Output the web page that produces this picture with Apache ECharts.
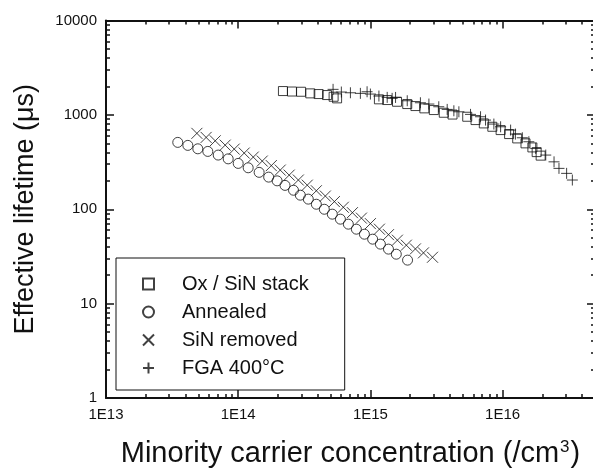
<!DOCTYPE html>
<html>
<head>
<meta charset="utf-8">
<script src="https://cdn.jsdelivr.net/npm/echarts@6/dist/echarts.min.js"></script>
<style>
html,body{margin:0;padding:0;background:#fff;}
#chart{width:593px;height:472px;}
</style>
</head>
<body>
<div id="chart"></div>
<script>
// ---- Data ----
var seriesNames = ['Ox / SiN stack', 'Annealed', 'SiN removed', 'FGA 400°C'];

var stackX = [2.18e14, 2.55e14, 2.99e14, 3.51e14, 4.06e14, 4.70e14, 5.27e14, 5.60e14, 1.16e15, 1.34e15, 1.59e15, 1.90e15, 2.19e15, 2.56e15, 3.02e15, 3.59e15, 4.18e15, 5.40e15, 6.24e15, 7.21e15, 8.36e15, 9.66e15, 1.12e16, 1.29e16, 1.49e16, 1.68e16, 1.81e16, 1.94e16];
var stackY = [1788, 1768, 1758, 1690, 1662, 1622, 1556, 1496, 1461, 1436, 1377, 1302, 1240, 1172, 1125, 1053, 1008, 955, 881, 812, 748, 690, 626, 563, 499, 452, 403, 370];

var annealedX = [3.49e13, 4.16e13, 4.95e13, 5.89e13, 7.06e13, 8.40e13, 1.00e14, 1.19e14, 1.44e14, 1.70e14, 1.97e14, 2.26e14, 2.62e14, 2.95e14, 3.39e14, 3.90e14, 4.48e14, 5.15e14, 5.93e14, 6.81e14, 7.83e14, 9.01e14, 1.04e15, 1.19e15, 1.37e15, 1.57e15, 1.91e15];
var annealedY = [511, 475, 437, 410, 375, 342, 306, 275, 246, 219, 200, 179, 159, 141, 128, 113, 100, 88.7, 78.5, 69.5, 61.5, 54.4, 48.2, 42.7, 37.8, 33.4, 28.9];

var removedX = [4.87e13, 5.72e13, 6.70e13, 7.97e13, 9.33e13, 1.11e14, 1.30e14, 1.52e14, 1.78e14, 2.08e14, 2.43e14, 2.85e14, 3.33e14, 3.90e14, 4.56e14, 5.34e14, 6.24e14, 7.31e14, 8.55e14, 1.00e15, 1.17e15, 1.37e15, 1.60e15, 1.87e15, 2.19e15, 2.52e15, 2.95e15];
var removedY = [637, 577, 531, 478, 434, 394, 357, 324, 290, 260, 230, 204, 180, 157, 138, 120.5, 105, 92, 80.5, 70.4, 61.5, 53.8, 47.0, 41.6, 38.0, 34.5, 31.0];

var fgaX = [5.22e14, 6.03e14, 7.06e14, 8.40e14, 9.44e14, 1.00e15, 1.16e15, 1.34e15, 1.46e15, 1.55e15, 1.90e15, 2.39e15, 2.77e15, 3.29e15, 3.81e15, 4.28e15, 4.67e15, 5.72e15, 6.81e15, 7.43e15, 8.59e15, 9.66e15, 1.15e16, 1.25e16, 1.41e16, 1.58e16, 1.78e16, 2.12e16, 2.45e16, 2.67e16, 3.05e16, 3.37e16];
var fgaY = [1864, 1746, 1715, 1690, 1758, 1662, 1583, 1533, 1496, 1530, 1411, 1344, 1302, 1219, 1143, 1105, 1078, 1012, 955, 881, 799, 748, 690, 626, 572, 519, 441, 375, 318, 271, 240, 204];

var xMajorTicks = [1e13, 1e14, 1e15, 1e16];
var xMinorTicks = [2e13,3e13,4e13,5e13,6e13,7e13,8e13,9e13, 2e14,3e14,4e14,5e14,6e14,7e14,8e14,9e14, 2e15,3e15,4e15,5e15,6e15,7e15,8e15,9e15, 2e16,3e16,4e16];
var yMajorTicks = [1, 10, 100, 1000, 10000];
var yMinorTicks = [2,3,4,5,6,7,8,9, 20,30,40,50,60,70,80,90, 200,300,400,500,600,700,800,900, 2000,3000,4000,5000,6000,7000,8000,9000];

var xMin = 1e13, xMax = 5e16, yMin = 1, yMax = 10000;

// ---- Chart ----
function zip(a, b) { return a.map(function (v, i) { return [v, b[i]]; }); }
var FONT = '"Liberation Sans", Arial, Helvetica, sans-serif';
var INK = '#111';
var symX = 'path://M0,0L10,10M10,0L0,10';
var symPlus = 'path://M5,0L5,10M0,5L10,5';

function xAxisDef(pos, major, withLabel) {
  return {
    type: 'log', logBase: 10, min: xMin, max: xMax, position: pos,
    splitLine: { show: false },
    axisLine: { show: major, lineStyle: { color: INK, width: 2 } },
    axisTick: { show: true, inside: true, length: major ? 8 : 4, customValues: major ? xMajorTicks : xMinorTicks, lineStyle: { color: INK, width: 1.5 } },
    axisLabel: withLabel ? { show: true, customValues: xMajorTicks, margin: 9, color: INK, fontSize: 15, fontFamily: FONT,
      formatter: function (v) { return '1E' + Math.round(Math.log10(v)); } } : { show: false },
    name: withLabel ? 'Minority carrier concentration (/cm{s|3})' : '',
    nameLocation: 'middle', nameGap: 41,
    nameTextStyle: { fontSize: 29, fontFamily: FONT, color: INK,
      rich: { s: { fontSize: 17, fontFamily: FONT, color: INK, verticalAlign: 'top', padding: [0, 1, 0, 1] } } }
  };
}
function yAxisDef(pos, major, withLabel) {
  return {
    type: 'log', logBase: 10, min: yMin, max: yMax, position: pos,
    splitLine: { show: false },
    axisLine: { show: major, lineStyle: { color: INK, width: 2 } },
    axisTick: { show: true, inside: true, length: major ? 8 : 4, customValues: major ? yMajorTicks : yMinorTicks, lineStyle: { color: INK, width: 1.5 } },
    axisLabel: withLabel ? { show: true, customValues: yMajorTicks, margin: 9, color: INK, fontSize: 15, fontFamily: FONT,
      formatter: function (v) { return String(Math.round(v)); } } : { show: false },
    name: withLabel ? 'Effective lifetime (μs)' : '',
    nameLocation: 'middle', nameGap: 67,
    nameTextStyle: { fontSize: 27, fontFamily: FONT, color: INK }
  };
}

var markerStyle = { color: 'rgba(0,0,0,0)', borderColor: INK, borderWidth: 1 };

var option = {
  backgroundColor: '#fff',
  animation: false,
  grid: { left: 106, top: 20.5, width: 489, height: 377.5, outerBoundsMode: 'none', containLabel: false },
  xAxis: [xAxisDef('bottom', true, true), xAxisDef('bottom', false, false), xAxisDef('top', true, false), xAxisDef('top', false, false)],
  yAxis: [yAxisDef('left', true, true), yAxisDef('left', false, false), yAxisDef('right', true, false), yAxisDef('right', false, false)],
  legend: {
    orient: 'vertical', left: 116, top: 258,
    padding: [16, 36, 12, 26], itemGap: 8, itemWidth: 11, itemHeight: 11,
    borderColor: INK, borderWidth: 1, backgroundColor: '#fff',
    textStyle: { fontSize: 20, fontFamily: FONT, color: INK, padding: [0, 0, 0, 23], lineHeight: 20 },
    data: [
      { name: seriesNames[0], icon: 'rect' },
      { name: seriesNames[1], icon: 'circle' },
      { name: seriesNames[2], icon: symX },
      { name: seriesNames[3], icon: symPlus }
    ]
  },
  series: [
    { name: seriesNames[0], type: 'scatter', symbol: 'rect', symbolSize: 9, itemStyle: markerStyle, data: zip(stackX, stackY) },
    { name: seriesNames[1], type: 'scatter', symbol: 'circle', symbolSize: 10, itemStyle: markerStyle, data: zip(annealedX, annealedY) },
    { name: seriesNames[2], type: 'scatter', symbol: symX, symbolSize: 11, itemStyle: markerStyle, data: zip(removedX, removedY) },
    { name: seriesNames[3], type: 'scatter', symbol: symPlus, symbolSize: 11, itemStyle: markerStyle, data: zip(fgaX, fgaY) }
  ]
};

var chart = echarts.init(document.getElementById('chart'), null, { renderer: 'canvas' });
chart.setOption(option);
</script>
</body>
</html>
